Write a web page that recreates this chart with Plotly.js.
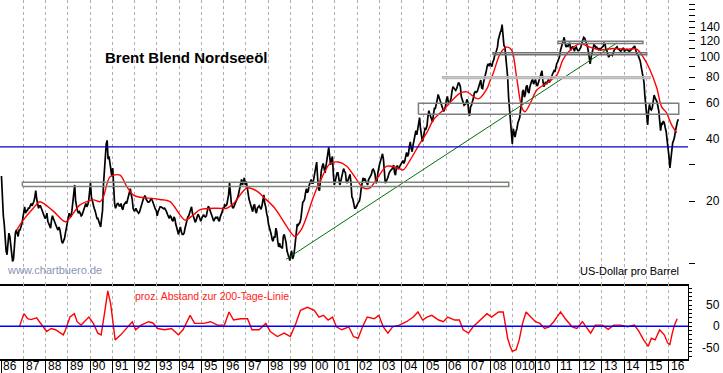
<!DOCTYPE html>
<html><head><meta charset="utf-8">
<script src="https://cdn.plot.ly/plotly-3.0.1.min.js"></script>
<style>html,body{margin:0;padding:0;background:#fff}#chart{width:723px;height:373px}</style>
</head><body><div id="chart"></div>
<script>
// ---------- DATA ----------
const startYear = 1986;            // semi-monthly samples start Jan 1986
const brentPrice = [
 26.5,20,17,15.5,13,11.5,11,12,14,13.5,12,11,10.2,10.5,12.5,14,14.5,14,13.5,14.5,14.5,15,15.5,16.5,
 18.3,18.8,17.5,18,18,18.5,18.5,19,19.5,19,19.5,20,21,22.5,20.5,19.5,18.5,19,19,18.5,18,17.5,17,16.5,
 16.8,17.5,16,15.5,15,14.8,16.2,17,16.5,16,15.8,15,14.8,14.5,15,14.6,13.5,12.8,12.5,12.8,13.2,14,15,16,
 16.8,17.5,17,16.8,18,19.5,21.5,24,20,18.5,18,17.5,17.8,17.5,17,17.2,17.8,18.2,19,19.5,18.8,19.2,20,22,
 24.5,21,20,19.5,18.5,18,17,16.5,16.5,16,15.5,15,16.5,18,24,28,33,38,39.5,32,33,31,28,26.5,
 29,22,19.5,18.5,19,19.5,19.5,19,19,19.5,18.5,18.2,19.2,19.6,19.8,19.5,20.5,21,22,23,21.5,20.5,18.5,18,
 18,18.5,18,17.8,17.5,17.8,18.5,19.5,20,20.5,21,21.3,20.5,20,19.8,19.8,20,20.5,20.5,20,19.3,19,18.3,18,
 17,17.8,18.5,18.8,18.8,18.7,18.6,18.4,18.5,18.2,17.8,17.3,16.8,16.5,17,16.8,16.2,16,16.8,16.5,15.5,14.8,14,13.8,
 14.5,15,14.2,13.8,13.8,14,14.8,15.5,16.3,16.8,17,17.5,18.2,18.8,17.5,16.8,16,15.8,16.2,16.6,17.3,17,16.2,16,
 16.5,16.8,17.2,16.9,16.8,17,18.2,18.9,18.6,18.2,17.5,17,16.2,16,16.4,16.7,16.6,16.8,16.2,16,16.8,17.2,17.7,18.5,
 18.5,19.2,19,19.2,20,21.5,24.5,21,19.5,18.8,18.5,19,19.5,19.8,20.2,21,22,23.2,24.5,25.5,24,25,26,24,
 25,23.5,21.5,20.5,19.8,19,18,17.8,19,19.3,18,17.5,18.5,18.8,19,18.6,18.3,19,20.5,21.5,19.5,18.8,17.5,16.8,
 15.5,15,14.2,13.8,13,12.8,13.5,13.3,14.8,14.2,12.8,12,12.5,12,12,11.8,13.5,13.8,13.2,12.6,11.5,11,10.5,10.3,
 11,11.5,10.5,10.8,11.5,13,15,15.5,15.3,15.5,15.8,16.5,18.5,19.8,20,20.5,22,23,22,22.5,24,25,25.5,24.5,
 24.5,26,27.5,29,31,26,23,22.5,26.5,28,29.5,30.5,29,27.5,29.5,31.5,33.5,36.5,33,30,32,33,27,24,
 25,26,27.5,27.5,25,24,25,26.5,28,28.8,28,27.5,25,24.5,25.5,26.5,27,24.5,21,20.5,19,18.5,18.5,19,
 19.5,19.8,20,21,23,24.5,26,25.5,25.8,25,24.3,24,25.5,26,26.5,27,28.3,28.6,28,27,24.5,24.8,27.5,29.5,
 30.5,31.5,33,34,32,27,24.5,25,25.5,26.2,27.3,28,28.3,28.5,29.5,30,27.5,26.8,29.3,29.8,28.8,29,29.8,30.5,
 31,31.5,30.5,31.3,33,34.5,33,33.8,37,38.8,36,34.8,37.5,39.5,42,44,42,44.5,48.5,51,45,41.5,39,40.5,
 43.5,45.5,45,46.5,51.5,55,53,51,49,48.5,53,56.5,56.5,58.5,62,66,64,61.5,59,58,55.5,54.5,56,58,
 62.5,64.5,60.5,59.5,61,63.5,68.5,72,71,69.5,69,70.5,73.5,75.5,74,72,64.5,62,59,58.5,59,59.5,62.5,61,
 54,52,57.5,58.5,61,63,67,68,67.5,68,70,72.5,76,77.5,71,70.5,75.5,78.5,81,86,91,93,90.5,93.5,
 92,90,95,97,102,104,108,112,122,128,132,135,144,128,114,112,100,95,80,64,55,50,43,38,
 45,42,41,43.5,45,48,50,51,56,59,68,69.5,64,66,72,73,68,67,72,76,77,78,74,76,
 78,74,72.5,75,78,80,84,86,77,72,74,76,74,77,78,75.5,77,79,82,84,86,85,90,93.5,
 95,98,101,108,113,116,122,125,117,112,114,113,116,117.5,108,111,113,111,107,111,112,109,107.5,108,
 110,112,117,121,125,124,121,118,113,107,96,93,100,105,112,115,114,111,112,110,109,110,109,111,
 112,113,117,116,109,108,103,100,102.5,103,103,102,106,108.5,110,112,112.5,110,109.5,108,107,108.5,110,111,
 107,108.5,109,109,107.5,107,107.5,108.5,109.5,110,112,113.5,108,105,103,101.5,98.5,96,90,85.5,81,76,65,59,
 50,47,55,59,56,55.5,57,62,65.5,63.5,62,61,58,55,49,44,48,47.5,49,48,45.5,43.5,39.5,37,
 33,29,32,34,38.5,39.5,41,44,47,48.5,50
];
const maYears = [1986.70,1987.00,1987.45,1987.75,1988.35,1988.90,1989.55,1990.15,1990.45,1990.60,1990.90,1991.35,1991.65,1991.95,1992.25,1992.70,1993.15,1993.60,1994.27,1994.65,1994.95,1995.70,1996.15,1996.45,1997.05,1997.50,1997.85,1998.25,1998.54,1998.84,1999.21,1999.50,1999.80,2000.04,2000.34,2000.79,2001.16,2001.54,2001.99,2002.29,2002.58,2002.89,2003.34,2003.78,2004.08,2004.38,2004.83,2005.13,2005.43,2005.88,2006.63,2006.93,2007.45,2007.83,2007.98,2008.13,2008.43,2008.73,2008.95,2009.18,2009.40,2009.55,2009.78,2010.08,2010.53,2010.98,2011.25,2011.50,2012.02,2012.47,2012.92,2013.52,2014.12,2014.57,2014.87,2015.17,2015.47,2015.69,2015.90,2016.14,2016.37];
const maValues = [14.5,16.2,18.5,19.9,17.9,15.9,19.2,20.3,19.9,21.0,26.3,26.8,23.6,21.4,20.9,20.7,20.4,19.9,16.2,17.2,18.2,18.5,18.5,19.5,23.2,22.4,20.7,18.8,17.0,15.1,13.5,14.6,17.6,21.0,25.0,30.5,31.0,29.6,25.4,23.2,23.2,25.7,29.6,29.1,28.4,31.6,38.2,42.9,49.6,55.5,66.9,67.9,62.8,70,77,84,104,112,108.5,79,57.4,54.4,59.5,69.4,75,82,97,106,116.5,112,108.5,110.3,109.5,109.5,100,86.8,71.1,57.4,54,47,43];
const devYears = [1986.83,1987.03,1987.2,1987.35,1987.6,1987.85,1988.05,1988.25,1988.45,1988.8,1988.9,1989.1,1989.3,1989.42,1989.6,1989.95,1990.15,1990.35,1990.5,1990.65,1990.8,1990.93,1991.0,1991.13,1991.38,1991.7,1991.9,1992.05,1992.3,1992.63,1992.83,1993.04,1993.35,1993.66,1993.97,1994.18,1994.5,1994.7,1995.1,1995.42,1995.73,1996.04,1996.25,1996.45,1996.77,1997.08,1997.28,1997.6,1997.9,1998.1,1998.42,1998.73,1999.0,1999.25,1999.46,1999.77,2000.08,2000.29,2000.49,2000.7,2000.9,2001.07,2001.32,2001.63,2001.84,2002.05,2002.25,2002.46,2002.77,2002.98,2003.18,2003.39,2003.6,2003.9,2004.22,2004.53,2004.74,2004.95,2005.15,2005.36,2005.67,2005.88,2006.08,2006.39,2006.6,2006.77,2007.01,2007.22,2007.53,2007.84,2008.05,2008.36,2008.57,2008.67,2008.77,2008.88,2008.98,2009.15,2009.29,2009.44,2009.6,2009.81,2010.02,2010.22,2010.43,2010.64,2010.84,2011.15,2011.36,2011.67,2011.88,2012.13,2012.3,2012.5,2012.71,2013.02,2013.29,2013.54,2013.85,2014.16,2014.47,2014.67,2014.88,2015.09,2015.23,2015.4,2015.6,2015.81,2015.96,2016.06,2016.17,2016.27,2016.39];
const devValues = [0,30,18,16,20,3,-12,-5,-8,-20,-8,22,30,11,3,22,7,-16,-20,30,84,53,22,-32,-20,-1,11,-8,3,11,8,-5,-8,-5,-20,-8,26,7,7,11,3,3,34,15,18,18,-8,-8,7,-12,-24,-16,-24,7,38,45,38,22,26,15,22,-1,-8,-1,-24,-28,-1,22,18,26,-1,-16,-1,3,11,22,34,15,22,26,15,11,22,15,15,-8,-16,-1,15,30,22,34,34,7,-28,-47,-59,-55,-32,7,34,22,11,7,-5,-1,11,34,18,-1,-5,11,-1,-16,3,3,-7,3,3,-1,3,-12,-32,-47,-28,-32,-8,-20,-39,-43,-16,3,18];
const supportLevel = 36.7;
const trendYears = [1998.81, 2013.67];
const trendValues = [10.45, 117.3];
const zoneStart = [1986.96, 2004.76, 2005.84, 2008.11, 2011.03];
const zoneEnd   = [2008.82, 2016.46, 2015.17, 2015.02, 2014.85];
const zoneLow   = [23.6, 52.9, 78.8, 103.0, 116.5];
const zoneHigh  = [24.7, 59.8, 80.4, 105.3, 119.6];
const yearLabels = ['86','87','88','89','90','91','92','93','94','95','96','97','98','99','00','01','02','03','04','05','06','07','08','010','10','11','12','13','14','15','16'];
const priceTickLabels = [20,40,60,80,100,120,140];
const devTickLabels = [50,0,-50];
const titleText = 'Brent Blend Nordseeöl';
const sourceText = 'www.chartbuero.de';
const unitText = 'US-Dollar pro Barrel';
const devText = 'proz. Abstand zur 200-Tage-Linie';

// ---------- STYLE / LAYOUT ----------
const PW = 688, PH = 359, SPLIT = 284;
const px = v => v / PW;
const py = v => (PH - v) / PH;
const xRange = [1985.955, 2016.876];
const FONT = 'Arial, "Liberation Sans", sans-serif';
const zoneColors = ['#7d857d', '#7d7d7d', '#b8b8b8', '#707070', '#7a7a7a'];

const priceYears = brentPrice.map((v, i) => startYear + (i + 0.5) / 24);

const traces = [];
traces.push({x: priceYears, y: brentPrice, type: 'scatter', mode: 'lines',
  line: {color: '#000', width: 1.7}, xaxis: 'x', yaxis: 'y', hoverinfo: 'skip'});
traces.push({x: maYears, y: maValues, type: 'scatter', mode: 'lines',
  line: {color: '#ff0000', width: 1.4, shape: 'spline', smoothing: 0.8}, xaxis: 'x', yaxis: 'y', hoverinfo: 'skip'});
traces.push({x: trendYears, y: trendValues, type: 'scatter', mode: 'lines',
  line: {color: '#00700a', width: 1}, xaxis: 'x', yaxis: 'y', hoverinfo: 'skip'});
traces.push({x: xRange, y: [supportLevel, supportLevel], type: 'scatter', mode: 'lines',
  line: {color: '#0000c8', width: 1.3}, xaxis: 'x', yaxis: 'y', hoverinfo: 'skip'});
zoneStart.forEach((s, i) => {
  traces.push({x: [s, zoneEnd[i], zoneEnd[i], s, s], y: [zoneLow[i], zoneLow[i], zoneHigh[i], zoneHigh[i], zoneLow[i]],
    type: 'scatter', mode: 'lines', line: {color: zoneColors[i], width: 1.5}, xaxis: 'x', yaxis: 'y', hoverinfo: 'skip'});
});
traces.push({x: devYears, y: devValues, type: 'scatter', mode: 'lines',
  line: {color: '#ff0000', width: 1.4}, xaxis: 'x2', yaxis: 'y2', hoverinfo: 'skip'});
traces.push({x: xRange, y: [0, 0], type: 'scatter', mode: 'lines',
  line: {color: '#0000ff', width: 1.5}, xaxis: 'x2', yaxis: 'y2', hoverinfo: 'skip'});

const ann = [];
const base = {showarrow: false, borderpad: 0};
ann.push(Object.assign({text: '<b>' + titleText + '</b>', xref: 'paper', yref: 'paper', x: px(104), y: py(57.5),
  xanchor: 'left', yanchor: 'middle', font: {family: FONT, size: 15, color: '#000'}}, base));
ann.push(Object.assign({text: sourceText, xref: 'paper', yref: 'paper', x: px(6), y: py(270),
  xanchor: 'left', yanchor: 'middle', font: {family: FONT, size: 11, color: '#8796b4'}}, base));
ann.push(Object.assign({text: unitText, xref: 'paper', yref: 'paper', x: px(680), y: py(270.5),
  xanchor: 'right', yanchor: 'middle', font: {family: FONT, size: 11, color: '#000'}}, base));
ann.push(Object.assign({text: devText, xref: 'paper', yref: 'paper', x: px(134), y: py(296),
  xanchor: 'left', yanchor: 'middle', font: {family: FONT, size: 10.5, color: '#ff1a1a'}}, base));
priceTickLabels.forEach(v => ann.push(Object.assign({text: String(v), xref: 'paper', yref: 'y', x: px(721), y: Math.log10(v),
  xanchor: 'right', yanchor: 'middle', font: {family: FONT, size: 12, color: '#000'}}, base)));
devTickLabels.forEach(v => ann.push(Object.assign({text: String(v), xref: 'paper', yref: 'y2', x: px(721), y: v,
  xanchor: 'right', yanchor: 'middle', font: {family: FONT, size: 12, color: '#000'}}, base)));
yearLabels.forEach((t, i) => ann.push(Object.assign({text: t, xref: 'x2', yref: 'paper', x: startYear + i + 0.06, y: py(366.5),
  xanchor: 'left', yanchor: 'middle', font: {family: FONT, size: 12, color: '#000'}}, base)));

const tv = []; for (let v = 10; v <= 180; v += 10) tv.push(v);
const tv2 = []; for (let v = -70; v <= 90; v += 10) tv2.push(v);

const layout = {
  width: 723, height: 373, margin: {l: 0, r: 35, t: 0, b: 14, pad: 0},
  paper_bgcolor: '#fff', plot_bgcolor: '#fff', showlegend: false,
  font: {family: FONT, size: 12, color: '#000'},
  xaxis: {domain: [0, 1], anchor: 'y', range: xRange, tickmode: 'linear', tick0: startYear, dtick: 1,
    showgrid: true, gridcolor: '#b8a8bc', griddash: '3px,3px', gridwidth: 1, showticklabels: false, ticks: '',
    zeroline: false, showline: true, linecolor: '#000', linewidth: 1.5},
  xaxis2: {domain: [0, 1], anchor: 'y2', matches: 'x', range: xRange, tickmode: 'linear', tick0: startYear, dtick: 1,
    showgrid: true, gridcolor: '#a6b8a6', griddash: '3px,3px', gridwidth: 1, showticklabels: false,
    ticks: 'outside', ticklen: 14, tickcolor: '#000', tickwidth: 1,
    zeroline: false, showline: true, linecolor: '#000', linewidth: 1.5},
  yaxis: {domain: [1 - SPLIT / PH, 1], anchor: 'x', type: 'log', range: [Math.log10(7.93), Math.log10(189.7)],
    side: 'right', tickmode: 'array', tickvals: tv, ticks: 'outside', ticklen: 6, tickcolor: '#000', tickwidth: 1,
    showticklabels: false, showgrid: false, zeroline: false, showline: false},
  yaxis2: {domain: [0, 1 - SPLIT / PH], anchor: 'x2', range: [-77, 100], side: 'right', tickmode: 'array', tickvals: tv2,
    ticks: 'outside', ticklen: 3, tickcolor: '#000', tickwidth: 1, showticklabels: false, showgrid: false,
    zeroline: false, showline: true, linecolor: '#000', linewidth: 1},
  annotations: ann
};
Plotly.newPlot('chart', traces, layout, {staticPlot: true, displayModeBar: false});
</script></body></html>
